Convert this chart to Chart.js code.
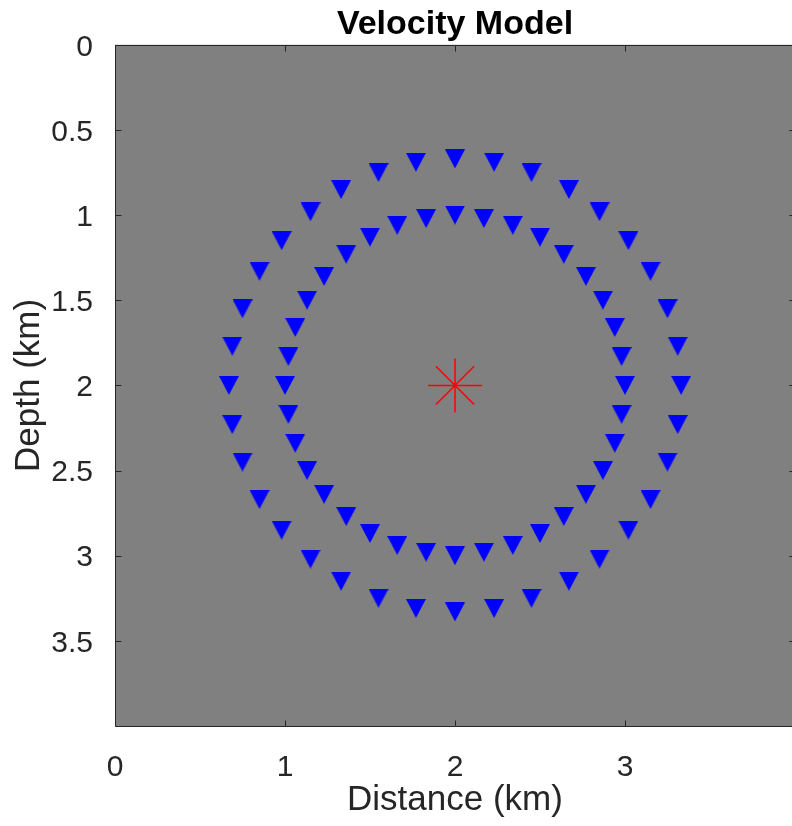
<!DOCTYPE html>
<html>
<head>
<meta charset="utf-8">
<title>Velocity Model</title>
<script src="https://cdn.jsdelivr.net/npm/chart.js@4.4.1/dist/chart.umd.min.js"></script>
<style>
  html, body { margin: 0; padding: 0; background: #fff; overflow: hidden; }
  #chart { display: block; }
</style>
</head>
<body>
<canvas id="chart" width="800" height="826"></canvas>
<script>
// receiver stations, outer ring (km)
const outerX     = [3.33, 3.31, 3.25, 3.15, 3.02, 2.85, 2.67, 2.45, 2.23, 2.00, 1.77, 1.55,
                    1.33, 1.15, 0.98, 0.85, 0.75, 0.69, 0.67, 0.69, 0.75, 0.85, 0.98, 1.15,
                    1.33, 1.55, 1.77, 2.00, 2.23, 2.45, 2.67, 2.85, 3.02, 3.15, 3.25, 3.31];
const outerDepth = [2.00, 2.23, 2.45, 2.67, 2.85, 3.02, 3.15, 3.25, 3.31, 3.33, 3.31, 3.25,
                    3.15, 3.02, 2.85, 2.67, 2.45, 2.23, 2.00, 1.77, 1.55, 1.33, 1.15, 0.98,
                    0.85, 0.75, 0.69, 0.67, 0.69, 0.75, 0.85, 0.98, 1.15, 1.33, 1.55, 1.77];

// receiver stations, inner ring (km)
const innerX     = [3.00, 2.98, 2.94, 2.87, 2.77, 2.64, 2.50, 2.34, 2.17, 2.00, 1.83, 1.66,
                    1.50, 1.36, 1.23, 1.13, 1.06, 1.02, 1.00, 1.02, 1.06, 1.13, 1.23, 1.36,
                    1.50, 1.66, 1.83, 2.00, 2.17, 2.34, 2.50, 2.64, 2.77, 2.87, 2.94, 2.98];
const innerDepth = [2.00, 2.17, 2.34, 2.50, 2.64, 2.77, 2.87, 2.94, 2.98, 3.00, 2.98, 2.94,
                    2.87, 2.77, 2.64, 2.50, 2.34, 2.17, 2.00, 1.83, 1.66, 1.50, 1.36, 1.23,
                    1.13, 1.06, 1.02, 1.00, 1.02, 1.06, 1.13, 1.23, 1.36, 1.50, 1.66, 1.83];

// source
const srcX     = [2.0];
const srcDepth = [2.0];

const xTicks = [0, 1, 2, 3];
const yTicks = [0, 0.5, 1, 1.5, 2, 2.5, 3, 3.5];

const AX   = "#262626";
const FONT = "'Liberation Sans', Arial, Helvetica, sans-serif";

function pts(xs, ys){
  return xs.map((x, i) => ({x: x, y: ys[i]}));
}

// downward triangle, box centred on the point
function triangle(w, h, color){
  const c = document.createElement("canvas");
  c.width = w; c.height = h;
  const g = c.getContext("2d");
  g.fillStyle = color;
  g.beginPath();
  g.moveTo(0, 0);
  g.lineTo(w, 0);
  g.lineTo(w / 2, h);
  g.closePath();
  g.fill();
  return c;
}

const tri = triangle(20, 19, "#0000ff");

// grey axes background, box outline and inward ticks
const axesBox = {
  id: "axesBox",
  beforeDatasetsDraw(chart){
    const {ctx, chartArea: a} = chart;
    ctx.save();
    ctx.fillStyle = "#808080";
    ctx.fillRect(a.left, a.top, a.right - a.left, a.bottom - a.top);
    ctx.restore();
  },
  afterDatasetsDraw(chart){
    const {ctx, chartArea: a, scales} = chart;
    const L = Math.round(a.left) + 0.5, R = Math.round(a.right) + 0.5;
    const T = Math.round(a.top) + 0.5,  B = Math.round(a.bottom) + 0.5;
    const t = 6;
    ctx.save();
    ctx.strokeStyle = AX;
    ctx.lineWidth = 1;
    ctx.beginPath();
    ctx.rect(L, T, R - L, B - T);
    xTicks.forEach(v => {
      const px = Math.round(scales.x.getPixelForValue(v)) + 0.5;
      ctx.moveTo(px, B); ctx.lineTo(px, B - t);
      ctx.moveTo(px, T); ctx.lineTo(px, T + t);
    });
    yTicks.forEach(v => {
      const py = Math.round(scales.y.getPixelForValue(v)) + 0.5;
      ctx.moveTo(L, py); ctx.lineTo(L + t, py);
      ctx.moveTo(R, py); ctx.lineTo(R - t, py);
    });
    ctx.stroke();
    ctx.restore();
  }
};

new Chart(document.getElementById("chart"), {
  type: "scatter",
  data: {
    datasets: [
      {label: "outer", data: pts(outerX, outerDepth), pointStyle: tri, pointRadius: 10},
      {label: "inner", data: pts(innerX, innerDepth), pointStyle: tri, pointRadius: 10},
      {label: "source", data: pts(srcX, srcDepth), pointStyle: "star", pointRadius: 27,
       borderColor: "#ff0000", backgroundColor: "rgba(0,0,0,0)", borderWidth: 1.5}
    ]
  },
  options: {
    responsive: false,
    animation: false,
    events: [],
    layout: {autoPadding: false, padding: {left: 0, right: 5, top: 0, bottom: 0}},
    plugins: {
      legend: {display: false},
      tooltip: {enabled: false},
      title: {
        display: true,
        text: "Velocity Model",
        fullSize: false,
        color: "#000",
        font: {family: FONT, size: 34, weight: "bold"},
        padding: {top: 4, bottom: 0}
      }
    },
    scales: {
      x: {
        type: "linear", position: "bottom", min: 0, max: 4,
        grid: {display: false}, border: {display: false},
        afterBuildTicks: s => { s.ticks = xTicks.map(v => ({value: v})); },
        afterFit: s => { s.height = 100; },
        ticks: {padding: 16, color: AX, maxRotation: 0, autoSkip: false,
                font: {family: FONT, size: 30}, callback: v => String(v)},
        title: {display: true, text: "Distance (km)", color: AX,
                font: {family: FONT, size: 35}, padding: {top: 0, bottom: 5}}
      },
      y: {
        type: "linear", position: "left", reverse: true, min: 0, max: 4,
        grid: {display: false}, border: {display: false},
        afterBuildTicks: s => { s.ticks = yTicks.map(v => ({value: v})); },
        afterFit: s => { s.width = 115; },
        ticks: {padding: 14, labelOffset: 2.5, color: AX, autoSkip: false,
                font: {family: FONT, size: 30}, callback: v => String(v)},
        title: {display: true, text: "Depth (km)", color: AX,
                font: {family: FONT, size: 35}, padding: {top: 8, bottom: 0}}
      }
    }
  },
  plugins: [axesBox]
});
</script>
</body>
</html>
